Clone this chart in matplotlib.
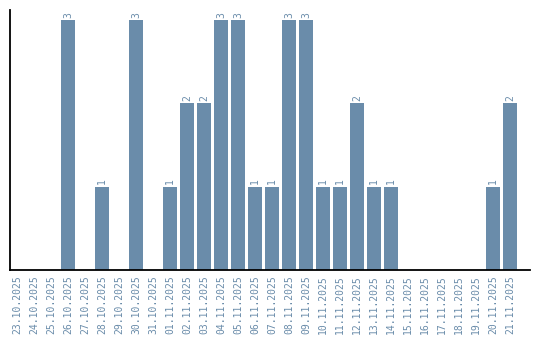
import matplotlib
matplotlib.use('Agg')
import matplotlib.pyplot as plt

dates = ['23.10.2025', '24.10.2025', '25.10.2025', '26.10.2025', '27.10.2025',
         '28.10.2025', '29.10.2025', '30.10.2025', '31.10.2025', '01.11.2025',
         '02.11.2025', '03.11.2025', '04.11.2025', '05.11.2025', '06.11.2025',
         '07.11.2025', '08.11.2025', '09.11.2025', '10.11.2025', '11.11.2025',
         '12.11.2025', '13.11.2025', '14.11.2025', '15.11.2025', '16.11.2025',
         '17.11.2025', '18.11.2025', '19.11.2025', '20.11.2025', '21.11.2025']
counts = [0, 0, 0, 3, 0, 1, 0, 3, 0, 1,
          2, 2, 3, 3, 1, 1, 3, 3, 1, 1,
          2, 1, 1, 0, 0, 0, 0, 0, 1, 2]

color = '#6a8caa'

fig = plt.figure(figsize=(5.4, 3.4), dpi=100)
ax = fig.add_axes([10 / 540, 70 / 340, 520 / 540, 260 / 340])

x = range(len(dates))
ax.bar(x, counts, width=0.82, color=color)

for i, c in enumerate(counts):
    if c > 0:
        ax.text(i, c + 0.03, str(c), rotation=90, ha='center', va='bottom',
                fontsize=7, color=color, family='DejaVu Sans Mono')

# right edge of the axis runs a bit past the last bar
ax.set_xlim(-0.41, 30.18)
ax.set_ylim(0, 3.12)
ax.set_xticks(list(x))
ax.set_xticklabels(dates, rotation=90, fontsize=7, color=color,
                   family='DejaVu Sans Mono')
ax.tick_params(axis='x', length=0, pad=4)
ax.set_yticks([])

for side in ['top', 'right']:
    ax.spines[side].set_visible(False)
ax.spines['left'].set_linewidth(1.3)
ax.spines['bottom'].set_linewidth(1.3)

fig.savefig('out.png', dpi=100)
